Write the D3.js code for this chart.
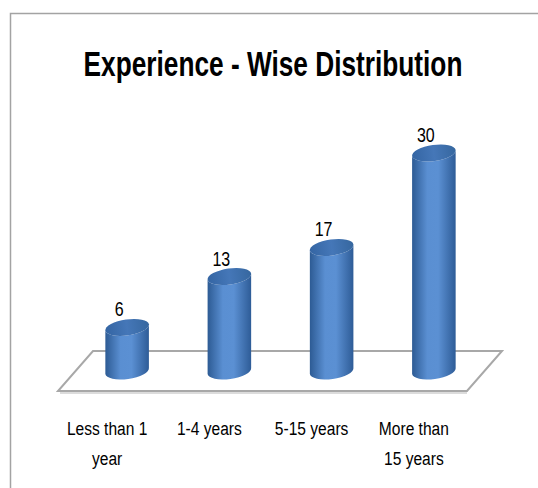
<!DOCTYPE html>
<html lang="en">
<head>
    <meta charset="UTF-8">
    <title>Experience - Wise Distribution</title>
    <script src="https://d3js.org/d3.v7.min.js"></script>
    <style>
        body { margin: 0; background: #fff; }
        text { font-family: "Liberation Sans", Arial, sans-serif; }
    </style>
</head>
<body>
<script>

    // data
    var categories = ['Less than 1 year', '1-4 years', '5-15 years', 'More than 15 years'];
    var labelLines = [['Less than 1', 'year'], ['1-4 years'], ['5-15 years'], ['More than', '15 years']];
    var values = [6, 13, 17, 30];

    var W = 538, H = 488;

    var svg = d3.select('body')
        .append('svg')
        .attr('width', W)
        .attr('height', H);

    // gradients for the cylinders
    var defs = svg.append('defs');
    var bodyGrad = defs.append('linearGradient').attr('id', 'bodyGrad')
        .attr('x1', 0).attr('x2', 1).attr('y1', 0).attr('y2', 0);
    bodyGrad.append('stop').attr('offset', '0%').attr('stop-color', '#2d5b94');
    bodyGrad.append('stop').attr('offset', '35%').attr('stop-color', '#5a8fd2');
    bodyGrad.append('stop').attr('offset', '60%').attr('stop-color', '#5b90d3');
    bodyGrad.append('stop').attr('offset', '100%').attr('stop-color', '#2e5c97');

    var capGrad = defs.append('linearGradient').attr('id', 'capGrad')
        .attr('x1', 0).attr('x2', 1).attr('y1', 0).attr('y2', 0);
    capGrad.append('stop').attr('offset', '0%').attr('stop-color', '#3465a3');
    capGrad.append('stop').attr('offset', '50%').attr('stop-color', '#4577b8');
    capGrad.append('stop').attr('offset', '100%').attr('stop-color', '#36679f');

    // chart border (top + left only are visible)
    svg.append('path')
        .attr('d', 'M' + W + ',13.5 L10.5,13.5 L10.5,' + H)
        .attr('fill', 'none')
        .attr('stroke', '#a3a3a3')
        .attr('stroke-width', 1.5);

    // title (condensed look via horizontal scale)
    svg.append('g')
        .attr('transform', 'translate(273,76) scale(0.75,1)')
        .append('text')
        .attr('text-anchor', 'middle')
        .attr('font-size', 35)
        .attr('font-weight', 'bold')
        .attr('fill', '#000')
        .text('Experience - Wise Distribution');

    // scales
    var x = d3.scaleBand()
        .domain(categories)
        .range([76, 485])
        .paddingInner(0.57)
        .paddingOuter(0.285);

    var y = d3.scaleLinear()
        .domain([0, 30])
        .range([371, 153]);

    // floor (3D oblique plane)
    var depth = 35, floorBack = 351, floorFront = 391;
    var fx0 = x.range()[0] + 17, fx1 = x.range()[1] + 17;
    svg.append('path')
        .attr('d', 'M' + fx0 + ',' + floorBack + ' L' + fx1 + ',' + floorBack +
            ' L' + (fx1 - depth) + ',' + floorFront + ' L' + (fx0 - depth) + ',' + floorFront + ' Z')
        .attr('fill', '#fff')
        .attr('stroke', '#a8a8a8')
        .attr('stroke-width', 2);
    svg.append('line')
        .attr('x1', fx0 - depth + 2).attr('x2', fx1 - depth)
        .attr('y1', floorFront + 2).attr('y2', floorFront + 2)
        .attr('stroke', '#d0d0d0').attr('stroke-width', 1.5);

    // cylinders
    var rx = x.bandwidth() / 2, ry = 8, tilt = -8;
    var t = tilt * Math.PI / 180;
    var dx = rx * Math.cos(t), dy = rx * Math.sin(t);

    var bars = svg.selectAll('.bar')
        .data(values)
        .enter()
        .append('g')
        .attr('class', 'bar');

    bars.append('path')
        .attr('fill', 'url(#bodyGrad)')
        .attr('d', function (d, i) {
            var cx = x(categories[i]) + rx;
            var yt = y(d), yb = y(0);
            return 'M' + (cx - dx) + ',' + (yt - dy) +
                ' L' + (cx - dx) + ',' + (yb - dy) +
                ' A' + rx + ' ' + ry + ' ' + tilt + ' 0 0 ' + (cx + dx) + ',' + (yb + dy) +
                ' L' + (cx + dx) + ',' + (yt + dy) +
                ' A' + rx + ' ' + ry + ' ' + tilt + ' 0 1 ' + (cx - dx) + ',' + (yt - dy) + ' Z';
        });

    bars.append('ellipse')
        .attr('fill', 'url(#capGrad)')
        .attr('rx', rx)
        .attr('ry', ry)
        .attr('transform', function (d, i) {
            var cx = x(categories[i]) + rx;
            return 'translate(' + cx + ',' + y(d) + ') rotate(' + tilt + ')';
        });

    // value labels
    bars.append('g')
        .attr('transform', function (d, i) {
            return 'translate(' + (x(categories[i]) + rx - 8) + ',' + (y(d) - ry - 3) + ') scale(0.8,1)';
        })
        .append('text')
        .attr('text-anchor', 'middle')
        .attr('font-size', 20)
        .attr('fill', '#000')
        .text(function (d) { return d; });

    // category labels along the front edge
    var cats = svg.selectAll('.cat')
        .data(labelLines)
        .enter()
        .append('g')
        .attr('class', 'cat')
        .attr('transform', function (d, i) {
            return 'translate(' + (x(categories[i]) + rx - 20) + ',435) scale(0.82,1)';
        });

    cats.selectAll('text')
        .data(function (d) { return d; })
        .enter()
        .append('text')
        .attr('y', function (d, j) { return j * 30; })
        .attr('text-anchor', 'middle')
        .attr('font-size', 19)
        .attr('fill', '#000')
        .text(function (d) { return d; });

</script>
</body>
</html>
